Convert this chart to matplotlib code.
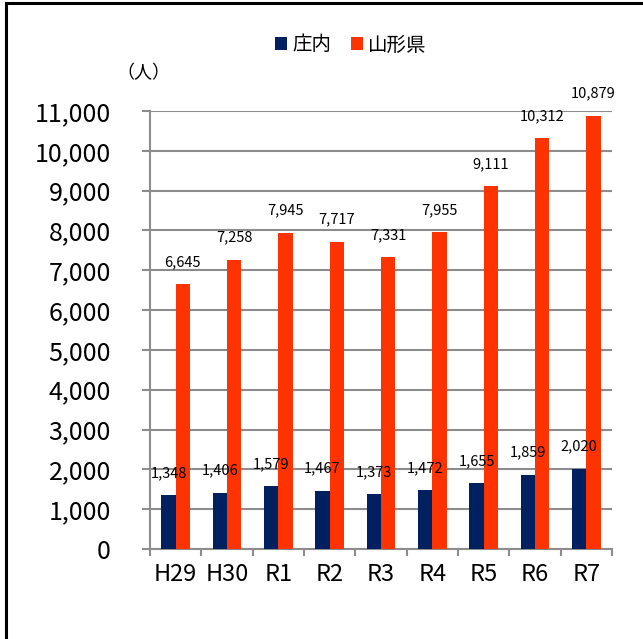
import numpy as np
import matplotlib
matplotlib.use('Agg')
import matplotlib.pyplot as plt
from matplotlib.lines import Line2D
from matplotlib.patches import Patch

plt.rcParams['font.family'] = ['Noto Sans CJK JP', 'DejaVu Sans']

categories = ['H29', 'H30', 'R1', 'R2', 'R3', 'R4', 'R5', 'R6', 'R7']
shonai = [1348, 1406, 1579, 1467, 1373, 1472, 1655, 1859, 2020]
yamagata = [6645, 7258, 7945, 7717, 7331, 7955, 9111, 10312, 10879]
series_names = ['庄内', '山形県']
colors = ['#002060', '#FF3300']
grid_col = '#8c8c8c'

fig = plt.figure(figsize=(6.43, 6.39), dpi=100)
ax = fig.add_axes([150 / 643, 90 / 639, 462 / 643, 438 / 639])

x = np.arange(len(categories))
w = 0.28
b1 = ax.bar(x - w / 2, shonai, w, color=colors[0], zorder=3)
b2 = ax.bar(x + w / 2, yamagata, w, color=colors[1], zorder=3)

# value labels, same offset above each bar
for bars, vals in ((b1, shonai), (b2, yamagata)):
    for rect, v in zip(bars, vals):
        ax.annotate(f'{v:,}', (rect.get_x() + rect.get_width() / 2, v),
                    xytext=(0, 16), textcoords='offset points',
                    ha='center', va='center', fontsize=10.5, zorder=5)

ax.set_xlim(-0.5, len(categories) - 0.5)
ax.set_ylim(0, 11000)
ax.set_yticks(np.arange(0, 11001, 1000))
ax.set_yticklabels([f'{v:,}' for v in range(0, 11001, 1000)], fontsize=18)
ax.yaxis.grid(True, color=grid_col, linewidth=1.5, zorder=0)
ax.tick_params(axis='y', length=6, width=1.5, color=grid_col, pad=22)

ax.set_xticks(x)
ax.set_xticklabels(categories, fontsize=17)
ax.set_xticks(np.arange(-0.5, len(categories), 1), minor=True)
ax.tick_params(axis='x', which='major', length=0, pad=10)
ax.tick_params(axis='x', which='minor', length=5, width=1.5, color=grid_col)

for s in ('top', 'right'):
    ax.spines[s].set_visible(False)
for s in ('left', 'bottom'):
    ax.spines[s].set_color(grid_col)
    ax.spines[s].set_linewidth(1.5)

fig.text(143 / 643, 1 - 73 / 639, '（人）', fontsize=13, ha='center', va='center')

handles = [Patch(facecolor=c, edgecolor='none') for c in colors]
fig.legend(handles, series_names, loc='center', bbox_to_anchor=(351 / 643, 1 - 45 / 639),
           ncol=2, frameon=False, fontsize=14, handlelength=0.6, handleheight=0.6,
           handletextpad=0.3, columnspacing=1.0)

# outer frame (only top and left visible in the crop)
fig.add_artist(Line2D([6 / 643, 6 / 643], [0, 1 - 3 / 639], color='black', linewidth=2.2,
                      transform=fig.transFigure))
fig.add_artist(Line2D([6 / 643, 1], [1 - 3 / 639, 1 - 3 / 639], color='black', linewidth=2.2,
                      transform=fig.transFigure))

fig.savefig('out.png', dpi=100)
